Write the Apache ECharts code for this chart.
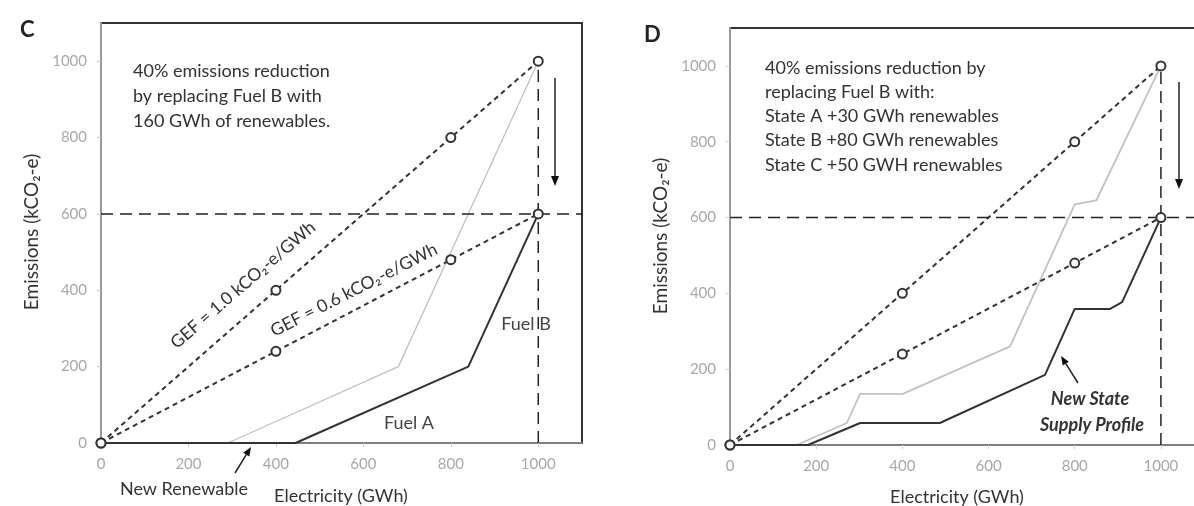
<!DOCTYPE html>
<html>
<head>
<meta charset="utf-8">
<script src="https://cdn.jsdelivr.net/npm/echarts@6/dist/echarts.min.js"></script>
<style>
html, body { margin: 0; padding: 0; background: #fff; }
#chart { width: 1194px; height: 506px; }
</style>
</head>
<body>
<div id="chart"></div>
<script>
// tick labels (both panels)
const tickValues = [0, 200, 400, 600, 800, 1000];

// grid emission factor lines
const gefX = [0, 400, 800, 1000];
const gefHigh = [0, 400, 800, 1000]; // 1.0 kCO2-e/GWh
const gefLow = [0, 240, 480, 600];   // 0.6 kCO2-e/GWh

// 40% target and total demand
const targetX = [0, 1100];
const targetY = [600, 600];
const demandX = [1000, 1000];
const demandY = [0, 1000];

// panel C supply curves
const cBaseX = [0, 290, 680, 1000];
const cBaseY = [0, 0, 200, 1000];
const cNewX = [0, 445, 840, 1000];
const cNewY = [0, 0, 200, 600];

// panel D supply curves
const dBaseX = [0, 155, 271, 302, 401, 650, 800, 850, 1000];
const dBaseY = [0, 0, 58, 135, 135, 260, 635, 645, 1000];
const dNewX = [0, 181, 302, 487, 731, 800, 882, 910, 1000];
const dNewY = [0, 0, 58, 58, 185, 359, 359, 377, 600];

const pts = (xs, ys) => xs.map((x, i) => [x, ys[i]]);
const FONT = 'Lato, "Noto Sans", "DejaVu Sans", sans-serif';

function buildSeries(g, baseX, baseY, newX, newY) {
  const common = { xAxisIndex: g, yAxisIndex: g, type: 'line', animation: false, silent: true };
  return [
    Object.assign({}, common, {
      data: pts(baseX, baseY), symbol: 'none',
      lineStyle: { color: '#c2c2c2', width: g ? 1.8 : 1.3 }
    }),
    Object.assign({}, common, {
      data: pts(newX, newY), symbol: 'none',
      lineStyle: { color: '#333', width: 2 }
    }),
    Object.assign({}, common, {
      data: pts(targetX, targetY), symbol: 'none',
      lineStyle: { color: '#222', width: 1.5, type: [12, 7] }
    }),
    Object.assign({}, common, {
      data: pts(demandX, demandY), symbol: 'none',
      lineStyle: { color: '#222', width: 1.5, type: [12, 7] }
    }),
    Object.assign({}, common, {
      data: pts(gefX, gefHigh), symbol: 'emptyCircle', symbolSize: 9,
      itemStyle: { color: '#333', borderWidth: 1.5 },
      lineStyle: { color: '#333', width: 2, type: [5, 4] }
    }),
    Object.assign({}, common, {
      data: pts(gefX, gefLow), symbol: 'emptyCircle', symbolSize: 9,
      itemStyle: { color: '#333', borderWidth: 1.5 },
      lineStyle: { color: '#333', width: 2, type: [5, 4] }
    })
  ];
}

function axisX(g) {
  return {
    gridIndex: g, type: 'value', min: 0, max: 1100, interval: 100,
    axisLine: { lineStyle: { color: '#999', width: 1.5 } },
    axisTick: { customValues: tickValues, length: 4, lineStyle: { color: '#ccc' } },
    axisLabel: { customValues: tickValues, formatter: v => String(v), color: '#a8a8a8', fontSize: 15, fontFamily: FONT, margin: 14 },
    splitLine: { show: false }
  };
}
function axisY(g) {
  return {
    gridIndex: g, type: 'value', min: 0, max: 1100, interval: 100,
    axisLine: { show: true, lineStyle: { color: '#999', width: 2 } },
    axisTick: { show: true, customValues: tickValues, length: 4, lineStyle: { color: '#ccc' } },
    axisLabel: { customValues: tickValues, formatter: v => String(v), color: '#a8a8a8', fontSize: 15, fontFamily: FONT, margin: 14 },
    splitLine: { show: false }
  };
}

function txt(x, y, text, opt) {
  opt = opt || {};
  return {
    type: 'text', x: x, y: y, rotation: opt.rot || 0, silent: true,
    style: {
      text: text, fill: opt.fill || '#333',
      font: (opt.style || 'normal') + ' ' + (opt.weight || 'normal') + ' ' + (opt.size || 18) + 'px ' + FONT,
      align: opt.align || 'left', verticalAlign: opt.va || 'middle',
      textAlign: opt.align || 'left', textVerticalAlign: opt.va || 'middle'
    }
  };
}
function arrow(x1, y1, x2, y2, w, head) {
  const a = Math.atan2(y2 - y1, x2 - x1);
  const hx = x2 - head * Math.cos(a), hy = y2 - head * Math.sin(a);
  const px = Math.sin(a) * head * 0.4, py = -Math.cos(a) * head * 0.4;
  return [
    { type: 'line', silent: true, shape: { x1: x1, y1: y1, x2: hx, y2: hy }, style: { stroke: '#222', lineWidth: w } },
    { type: 'polygon', silent: true, shape: { points: [[x2, y2], [hx + px, hy + py], [hx - px, hy - py]] }, style: { fill: '#111' } }
  ];
}

const graphics = [
  txt(20, 30, 'C', { size: 22, weight: 'bold', fill: '#222' }),
  txt(644, 35, 'D', { size: 22, weight: 'bold', fill: '#222' }),
  txt(32, 232, 'Emissions (kCO₂-e)', { rot: Math.PI / 2, align: 'center', size: 19 }),
  txt(661, 236, 'Emissions (kCO₂-e)', { rot: Math.PI / 2, align: 'center', size: 19 }),
  txt(341, 496, 'Electricity (GWh)', { align: 'center', size: 18 }),
  txt(957, 497, 'Electricity (GWh)', { align: 'center', size: 18 }),
  txt(133, 71, '40% emissions reduction'),
  txt(133, 96, 'by replacing Fuel B with'),
  txt(133, 121, '160 GWh of renewables.'),
  txt(243, 285, 'GEF = 1.0 kCO₂-e/GWh', { align: 'center', rot: 40.7 * Math.PI / 180, size: 17.5 }),
  txt(354, 290, 'GEF = 0.6 kCO₂-e/GWh', { align: 'center', rot: 27 * Math.PI / 180, size: 17.5 }),
  txt(526, 324, 'Fuel B', { align: 'center', fill: '#444' }),
  txt(409, 423, 'Fuel A', { align: 'center', fill: '#444' }),
  txt(184, 489, 'New Renewable', { align: 'center', fill: '#333' }),
  txt(765, 68, '40% emissions reduction by'),
  txt(765, 92, 'replacing Fuel B with:'),
  txt(765, 116, 'State A +30 GWh renewables'),
  txt(765, 140, 'State B +80 GWh renewables'),
  txt(765, 165, 'State C +50 GWH renewables'),
  txt(1090, 399, 'New State', { align: 'center', weight: 'bold', style: 'italic', fill: '#333' }),
  txt(1092, 425, 'Supply Profile', { align: 'center', weight: 'bold', style: 'italic', fill: '#333' })
].concat(
  arrow(555, 78, 555, 186, 1.5, 10),
  arrow(1179, 82, 1179, 189, 1.5, 10),
  arrow(235, 473, 251, 447, 1.5, 9),
  arrow(1078, 383, 1061, 356, 1.5, 9)
);

const chart = echarts.init(document.getElementById('chart'), null, { renderer: 'canvas' });
chart.setOption({
  animation: false,
  grid: [
    { left: 101, top: 23, width: 481, height: 420, show: true, borderColor: '#333', borderWidth: 2, outerBoundsMode: 'none' },
    { left: 730, top: 28, width: 474, height: 417, show: true, borderColor: '#333', borderWidth: 2, outerBoundsMode: 'none' }
  ],
  xAxis: [axisX(0), axisX(1)],
  yAxis: [axisY(0), axisY(1)],
  series: buildSeries(0, cBaseX, cBaseY, cNewX, cNewY).concat(buildSeries(1, dBaseX, dBaseY, dNewX, dNewY)),
  graphic: graphics
});
</script>
</body>
</html>
